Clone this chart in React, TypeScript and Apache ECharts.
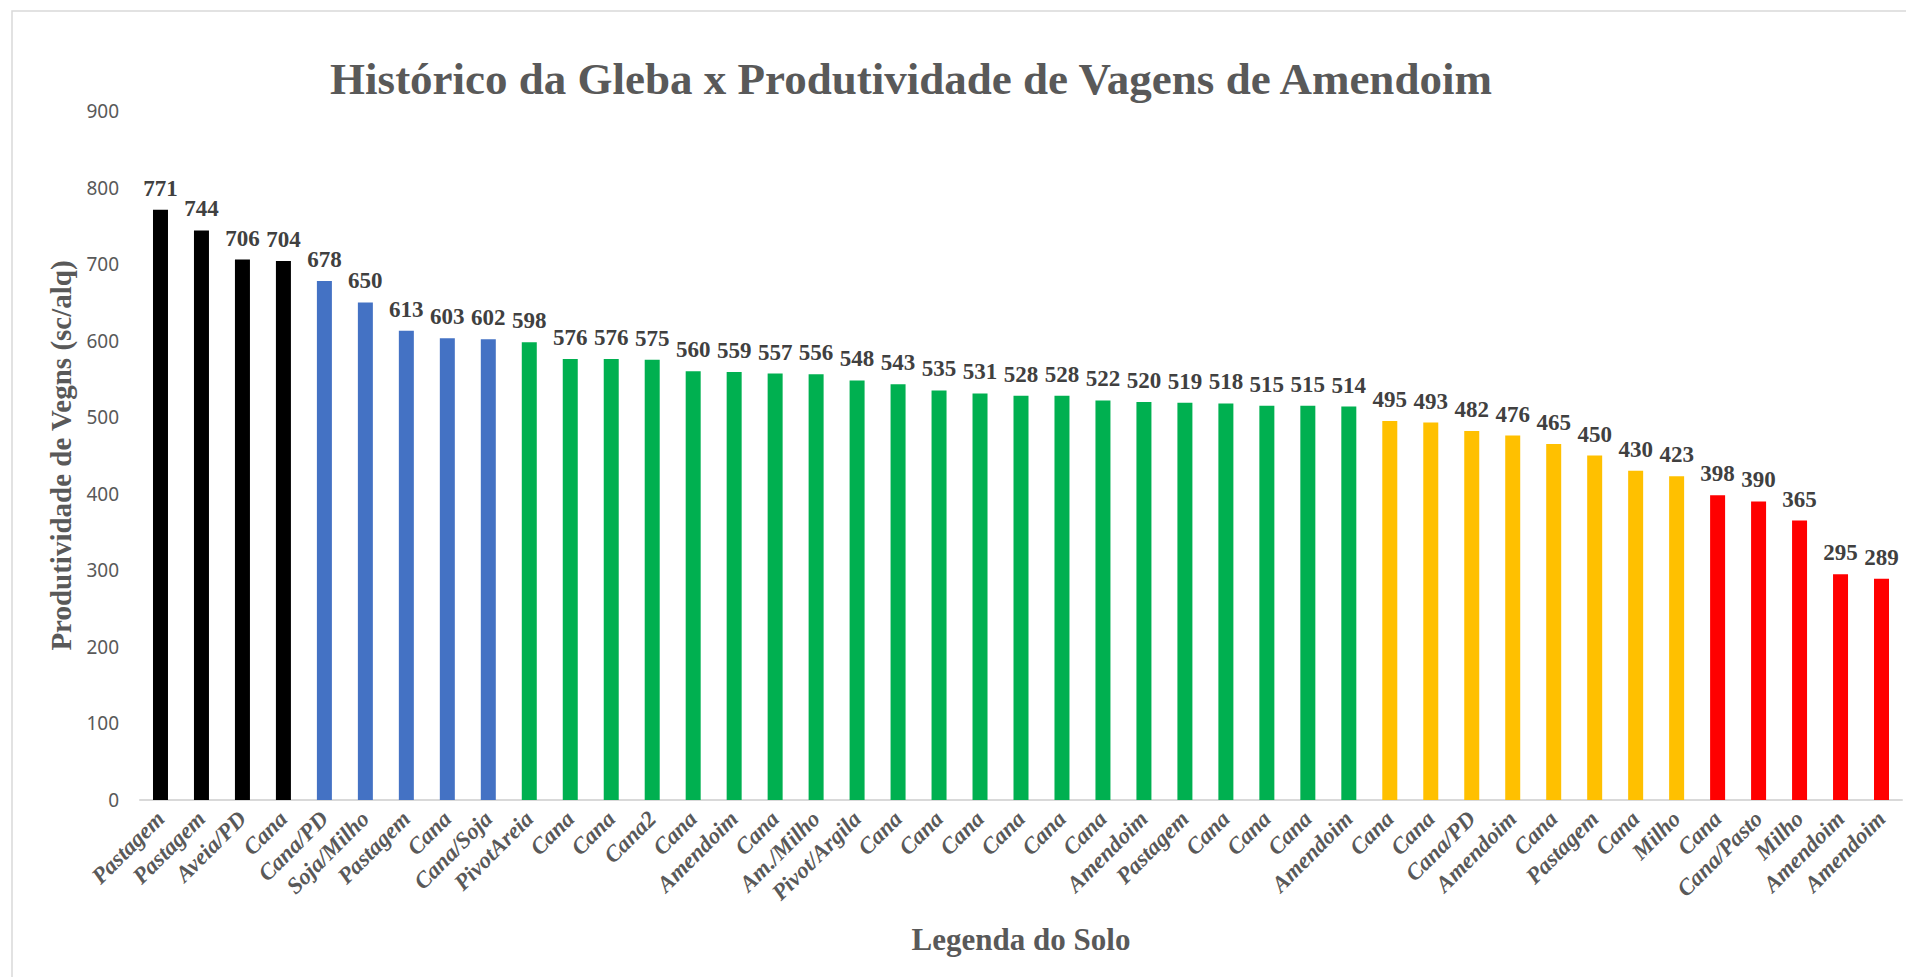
import React, { useEffect, useRef } from "react";
import * as echarts from "echarts";

const categories = [
  "Pastagem", "Pastagem", "Aveia/PD", "Cana", "Cana/PD", "Soja/Milho", "Pastagem", "Cana", "Cana/Soja",
  "PivotAreia", "Cana", "Cana", "Cana2", "Cana", "Amendoim", "Cana", "Am./Milho", "Pivot/Argila",
  "Cana", "Cana", "Cana", "Cana", "Cana", "Cana", "Amendoim", "Pastagem", "Cana", "Cana", "Cana",
  "Amendoim", "Cana", "Cana", "Cana/PD", "Amendoim", "Cana", "Pastagem", "Cana", "Milho",
  "Cana", "Cana/Pasto", "Milho", "Amendoim", "Amendoim",
];

const values = [
  771, 744, 706, 704, 678, 650, 613, 603, 602,
  598, 576, 576, 575, 560, 559, 557, 556, 548,
  543, 535, 531, 528, 528, 522, 520, 519, 518, 515, 515,
  514, 495, 493, 482, 476, 465, 450, 430, 423,
  398, 390, 365, 295, 289,
];

// productivity tier of each bar (0 = highest ... 4 = lowest)
const tiers = [
  0, 0, 0, 0, 1, 1, 1, 1, 1,
  2, 2, 2, 2, 2, 2, 2, 2, 2,
  2, 2, 2, 2, 2, 2, 2, 2, 2, 2, 2,
  2, 3, 3, 3, 3, 3, 3, 3, 3,
  4, 4, 4, 4, 4,
];

const tierColors = ["#000000", "#4472C4", "#00B050", "#FFC000", "#FF0000"];

const yTicks = { min: 0, max: 900, interval: 100 };

const SERIF = "'Liberation Serif', 'Times New Roman', serif";
const SANS = "'Noto Sans', 'Open Sans', sans-serif";

export default function App() {
  const ref = useRef<HTMLDivElement>(null);

  useEffect(() => {
    document.body.style.margin = "0";
    document.body.style.overflow = "hidden";
    if (!ref.current) return;
    const chart = echarts.init(ref.current, null, { renderer: "svg" });
    chart.setOption({
      animation: false,
      backgroundColor: "#ffffff",
      graphic: [
        {
          type: "rect",
          shape: { x: 12, y: 11, width: 2400, height: 2400 },
          style: { fill: "none", stroke: "#d9d9d9", lineWidth: 1.5 },
          silent: true,
        },
        {
          type: "text",
          x: 911,
          y: 79,
          style: {
            text: "Histórico da Gleba x Produtividade de Vagens de Amendoim",
            font: `bold 45px ${SERIF}`,
            fill: "#595959",
            textAlign: "center",
            textVerticalAlign: "middle",
          },
        },
      ],
      grid: { left: 140, right: 4, top: 111, bottom: 177, containLabel: false },
      xAxis: {
        type: "category",
        data: categories,
        name: "Legenda do Solo",
        nameLocation: "middle",
        nameGap: 124,
        nameTextStyle: { fontFamily: SERIF, fontWeight: "bold", fontSize: 31, color: "#595959" },
        axisLine: { show: true, lineStyle: { color: "#d9d9d9", width: 2 } },
        axisTick: { show: false },
        axisLabel: {
          interval: 0,
          rotate: 45,
          margin: 15,
          fontFamily: SERIF,
          fontWeight: "bold",
          fontStyle: "italic",
          fontSize: 23,
          color: "#595959",
        },
      },
      yAxis: {
        type: "value",
        min: yTicks.min,
        max: yTicks.max,
        interval: yTicks.interval,
        name: "Produtividade de Vegns (sc/alq)",
        nameLocation: "middle",
        nameGap: 64,
        nameTextStyle: { fontFamily: SERIF, fontWeight: "bold", fontSize: 29, color: "#595959" },
        axisLine: { show: false },
        axisTick: { show: false },
        splitLine: { show: false },
        axisLabel: { fontFamily: SANS, fontSize: 19, color: "#595959", margin: 21 },
      },
      series: [
        {
          type: "bar",
          barWidth: 15,
          data: values.map((v, i) => ({ value: v, itemStyle: { color: tierColors[tiers[i]] } })),
          label: {
            show: true,
            position: "top",
            distance: 10,
            fontFamily: SERIF,
            fontWeight: "bold",
            fontSize: 23,
            color: "#404040",
          },
        },
      ],
    });
    return () => chart.dispose();
  }, []);

  return <div ref={ref} style={{ width: 1906, height: 977 }} />;
}
